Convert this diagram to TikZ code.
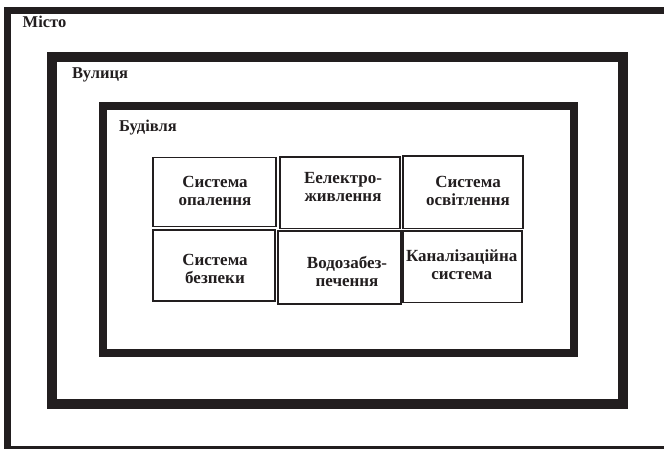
\documentclass[tikz,border=0pt]{standalone}
\usepackage{fontspec}
\setmainfont{Liberation Serif}
\definecolor{ink}{RGB}{34,30,31}
\begin{document}
\begin{tikzpicture}[x=1pt,y=-1pt,
  frame/.style={draw=ink,line join=miter},
  cell/.style={draw=ink,line width=1.8pt,inner sep=0pt},
  celltext/.style={align=center,font=\bfseries\fontsize{17}{18}\selectfont,text=ink,inner sep=0pt},
  tag/.style={anchor=base west,font=\bfseries\fontsize{16.5}{18}\selectfont,text=ink,inner sep=0pt}]
\useasboundingbox (0,0) rectangle (664,449);
\fill[white] (0,0) rectangle (664,449);
\clip (0,0) rectangle (664,449);
% city frame, running past the right and bottom edges
\draw[frame,line width=7pt] (7.5,11) rectangle (680,449.5);
% street frame
\draw[frame,line width=10pt] (52,57) rectangle (623,403.5);
% building frame
\draw[frame,line width=8pt] (103,106.5) rectangle (574,352.5);
% labels of the frames
\node[tag] (city) at (22.5,28) {Місто};
\node[tag] (street) at (72,79) {Вулиця};
\node[tag] (building) at (119,131.5) {Будівля};
% building systems
\node[cell,minimum width=123pt,minimum height=69pt] (b1) at (214.8,192) {};
\node[cell,minimum width=120pt,minimum height=71.5pt] (b2) at (340.2,192.7) {};
\node[cell,minimum width=120pt,minimum height=72.5pt] (b3) at (463.3,192.2) {};
\node[cell,minimum width=121.5pt,minimum height=71pt] (b4) at (214,265.8) {};
\node[cell,minimum width=123pt,minimum height=73pt] (b5) at (339.2,267.5) {};
\node[cell,minimum width=119.5pt,minimum height=71.5pt] (b6) at (462.5,266.7) {};
\node[celltext] (t1) at (215,191) {Система\\опалення};
\node[celltext] (t2) at (343,187) {Еелектро-\\живлення};
\node[celltext] (t3) at (468,191) {Система\\освітлення};
\node[celltext] (t4) at (215,268.5) {Система\\безпеки};
\node[celltext] (t5) at (347,271.5) {Водозабез-\\печення};
\node[celltext] (t6) at (461.7,265) {Каналізаційна\\система};
\end{tikzpicture}
\end{document}
